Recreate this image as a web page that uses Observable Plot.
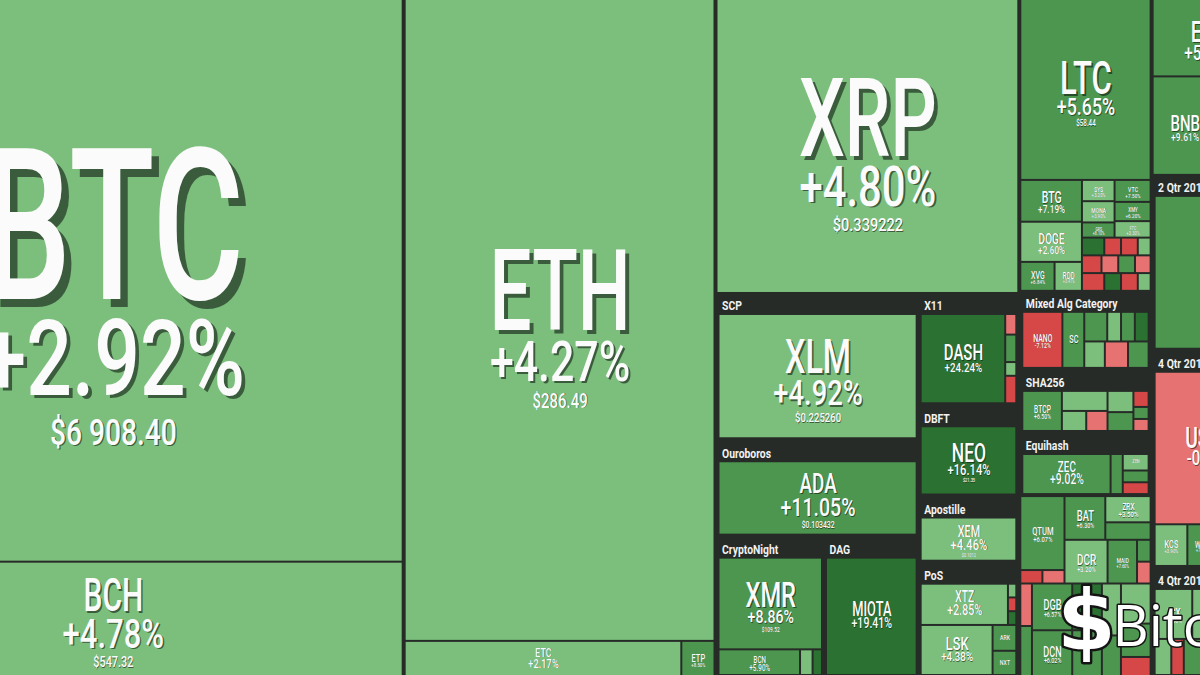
<!DOCTYPE html>
<html><head><meta charset="utf-8">
<script src="https://cdn.jsdelivr.net/npm/d3@7"></script>
<script src="https://cdn.jsdelivr.net/npm/@observablehq/plot@0.6"></script>
<style>
html,body{margin:0;padding:0;background:#262b27;overflow:hidden;}
#chart svg{display:block;}
</style></head><body><div id="chart"></div>
<script>
// Coins: [id, label, weight (market-cap share read from tile area), 24h change %, price]
const majorCoins = [
  ["BTC","BTC",3254,2.92,"$6 908.40"],
  ["BCH","BCH",667,4.78,"$547.32"],
  ["ETH","ETH",1990,4.27,"$286.49"],
  ["ETC","ETC",100,2.17,"$11.42"],
  ["ETP","ETP",12,8.5,""],
  ["XRP","XRP",888,4.80,"$0.339222"]
];
const col3Coins = [
  ["XLM","XLM",298,4.92,"$0.225260"],
  ["ADA","ADA",195,11.05,"$0.103432"],
  ["XMR","XMR",118,8.86,"$109.52"],
  ["BCN","BCN",26,5.90,""],
  ["cn1","",4,3.1,""],["cn2","",3,15.2,""],
  ["MIOTA","MIOTA",133,19.41,"$0.6021"],
  ["DASH","DASH",99,24.24,"$192.30"],
  ["x1","",3,-2.1,""],["x2","",4,7.3,""],["x3","",2,3.0,""],["x4","",4,-4.2,""],
  ["NEO","NEO",91,16.14,"$21.35"],
  ["XEM","XEM",66,4.46,"$0.1012"],
  ["XTZ","XTZ",47,2.85,"$1.52"],
  ["p1","",1.5,3.2,""],["p2","",1.5,-4.5,""],["p3","",1.5,14.8,""],
  ["LSK","LSK",47,4.38,"$3.41"],
  ["ARK","ARK",8,9.1,""],["NXT","NXT",7.5,7.8,""]
];
const col4Coins = [
  ["LTC","LTC",238,5.65,"$58.44"],
  ["BTG","BTG",26,7.19,""],["DOGE","DOGE",25,2.60,""],["XVG","XVG",10,6.84,""],["RDD","RDD",8,3.41,""],
  ["SYS","SYS",7,3.2,""],["MONA","MONA",7,3.9,""],["GRS","GRS",5,8.1,""],
  ["VTC","VTC",8,7.5,""],["XMY","XMY",7,6.2,""],["FTC","FTC",6,3.3,""],
  ["m1","",4,15,""],["m2","",3,-3.2,""],["m3","",3,-6,""],["m4","",2.3,3,""],
  ["m5","",3.5,-6,""],["m6","",3,-2,""],["m7","",3,7,""],["m8","",2.8,-1,""],
  ["m9","",4,-3.5,""],["m10","",3,14,""],["m11","",3,-6,""],["m12","",2.3,3,""],
  ["NANO","NANO",33,-7.12,""],["SC","SC",18,6.8,""],
  ["mx1","",10,7.2,""],["mx2","",6,3.1,""],["mx3","",6,6.4,""],["mx4","",6,15.1,""],
  ["mx5","",8,2.9,""],["mx6","",9,-2.4,""],["mx7","",8,7.7,""],
  ["BTCP","BTCP",26,6.5,""],["sh1","",15,3.1,""],["sh2","",8,2.8,""],["sh3","",7,-2.6,""],
  ["sh4","",9,3.4,""],["sh5","",8,7.0,""],["sh6","",4,-6.3,""],["sh7","",3,7.5,""],["sh8","",3,-1.8,""],
  ["ZEC","ZEC",58,9.02,"$128.10"],["KMD","KMD",8,7.4,""],["ZEN","ZEN",7,3.6,""],["eq2","",5,8.0,""],["eq3","",5,-4.1,""],
  ["QTUM","QTUM",33,6.07,""],["q1","",3,-4.4,""],["q2","",3,-2.5,""],
  ["BAT","BAT",18,6.3,""],["ZRX","ZRX",12,3.5,""],["b1","",8,7.1,""],
  ["DCR","DCR",19,3.2,""],["MAID","MAID",13,7.6,""],["d1","",3,6.9,""],["d2","",3,-1.7,""],
  ["bA1","",5,-2.2,""],["bA2","",6,7.0,""],["DGB","DGB",19,6.57,""],["DCN","DCN",19,6.02,""],
  ["bC1","",14,15.3,""],["bC2","",14,7.1,""],["bD1","",10,3.0,""],["bD2","",8,7.4,""],
  ["bE1","",12,3.3,""],["bE2","",10,7.2,""],["bE3","",6,-3.5,""]
];
const col5Coins = [
  ["EOS","EOS",88,5.96,""],["BNB","BNB",64,9.61,""],["c5x","",48,7.0,""],
  ["q2big","",200,7.5,""],
  ["USDT","USDT",194,-0.41,"$1.00"],["KCS","KCS",16,3.9,""],["WAN","WAN",14,7.2,""],["q3","",23,6.5,""],
  ["ICX","ICX",25,3.6,""],["q4x","",47,3.2,""],["r1","",8,3.0,""],["r2","",6,-4.2,""],["r3","",38,7.1,""]
];
// Groups: [id, split direction, header label, children]
const groups = [
  ["root","dice","",["c1","c2","c3","c4","c5"]],
  ["c1","slice","",["BTC","BCH"]],
  ["c2","slice","",["ETH","c2b"]],
  ["c2b","dice","",["ETC","ETP"]],
  ["c3","slice","",["XRP","c3low"]],
  ["c3low","dice","",["c3L","c3R"]],
  ["c3L","slice","",["gSCP","gOUR","c3Lrow"]],
  ["gSCP","slice","SCP",["XLM"]],
  ["gOUR","slice","Ouroboros",["ADA"]],
  ["c3Lrow","dice","",["gCN","gDAG"]],
  ["gCN","slice","CryptoNight",["XMR","cnRow"]],
  ["cnRow","dice","",["BCN","cn1","cn2"]],
  ["gDAG","slice","DAG",["MIOTA"]],
  ["c3R","slice","",["gX11","gDBFT","gAPO","gPOS"]],
  ["gX11","dice","X11",["DASH","x11s"]],
  ["x11s","slice","",["x1","x2","x3","x4"]],
  ["gDBFT","slice","DBFT",["NEO"]],
  ["gAPO","slice","Apostille",["XEM"]],
  ["gPOS","slice","PoS",["posR1","posR2"]],
  ["posR1","dice","",["XTZ","posS"]],
  ["posS","slice","",["p1","p2","p3"]],
  ["posR2","dice","",["LSK","posC"]],
  ["posC","slice","",["ARK","NXT"]],
  ["c4","slice","",["gSCR","gMIX","gSHA","gEQH","c4o","c4b"]],
  ["gSCR","slice","",["LTC","scS"]],
  ["scS","dice","",["scL","scR"]],
  ["scL","slice","",["BTG","DOGE","scL3"]],
  ["scL3","dice","",["XVG","RDD"]],
  ["scR","slice","",["scRt","scRb"]],
  ["scRt","dice","",["scRa","scRc"]],
  ["scRa","slice","",["SYS","MONA","GRS"]],
  ["scRc","slice","",["VTC","XMY","FTC"]],
  ["scRb","slice","",["mo1","mo2","mo3"]],
  ["mo1","dice","",["m1","m2","m3","m4"]],
  ["mo2","dice","",["m5","m6","m7","m8"]],
  ["mo3","dice","",["m9","m10","m11","m12"]],
  ["gMIX","dice","Mixed Alg Category",["NANO","SC","mixR"]],
  ["mixR","slice","",["mixT","mixB"]],
  ["mixT","dice","",["mx1","mx2","mx3","mx4"]],
  ["mixB","dice","",["mx5","mx6","mx7"]],
  ["gSHA","dice","SHA256",["BTCP","shB","shC","shD"]],
  ["shB","slice","",["sh1","shB2"]],
  ["shB2","dice","",["sh2","sh3"]],
  ["shC","slice","",["sh4","sh5"]],
  ["shD","slice","",["sh6","sh7","sh8"]],
  ["gEQH","dice","Equihash",["ZEC","KMD","eqC"]],
  ["eqC","slice","",["ZEN","eq2","eq3"]],
  ["c4o","dice","",["qCol","oR"]],
  ["qCol","slice","",["QTUM","qRow"]],
  ["qRow","dice","",["q1","q2"]],
  ["oR","slice","",["batRow","dcrRow"]],
  ["batRow","dice","",["BAT","batR"]],
  ["batR","slice","",["ZRX","b1"]],
  ["dcrRow","dice","",["DCR","MAID","dcrR"]],
  ["dcrR","slice","",["d1","d2"]],
  ["c4b","dice","",["bA","bB","bC","bD","bE"]],
  ["bA","slice","",["bA1","bA2"]],
  ["bB","slice","",["DGB","DCN"]],
  ["bC","slice","",["bC1","bC2"]],
  ["bD","slice","",["bD1","bD2"]],
  ["bE","slice","",["bE1","bE2","bE3"]],
  ["c5","slice","",["c5t","gQ2","gQ4a","gQ4b"]],
  ["c5t","slice","",["EOS","c5r"]],
  ["c5r","dice","",["BNB","c5x"]],
  ["gQ2","slice","2 Qtr 2018",["q2big"]],
  ["gQ4a","slice","4 Qtr 2017",["USDT","q4aRow"]],
  ["q4aRow","dice","",["KCS","WAN","q3"]],
  ["gQ4b","slice","4 Qtr 2016",["q4bRow1","q4bRow2"]],
  ["q4bRow1","dice","",["ICX","q4x"]],
  ["q4bRow2","dice","",["r1","r2","r3"]]
];
const changeThresholds = [-3, 0, 5, 13];
const changeColors = ["#d64848", "#e67272", "#7cbf7d", "#4c9650", "#2b7131"];

// ---- build hierarchy ----
const coinById = new Map([...majorCoins, ...col3Coins, ...col4Coins, ...col5Coins]
  .map(([id, name, weight, change, price]) => [id, {id, name, weight, change, price}]));
const groupById = new Map(groups.map(([id, split, header, kids]) => [id, {id, split, header, kids}]));
function build(id) {
  const g = groupById.get(id);
  if (g) return {id: g.id, split: g.split, header: g.header, children: g.kids.map(build)};
  const c = coinById.get(id);
  if (!c) throw new Error("missing " + id);
  return c;
}
const root = d3.hierarchy(build("root")).sum(d => d.weight || 0);
const VW = 1440, VH = 676;
d3.treemap()
  .size([VW, VH])
  .tile((node, x0, y0, x1, y1) => (node.data.split === "slice" ? d3.treemapSlice : d3.treemapDice)(node, x0, y0, x1, y1))
  .paddingInner(d => d.depth === 0 ? 4 : 2)
  .paddingTop(d => d.data.header ? 21 : 0)
  .paddingRight(d => d.data.header ? 2 : 0)
  .paddingBottom(d => d.data.header ? 2 : 0)
  .paddingLeft(d => d.data.header ? 2 : 0)(root);

const fmtChange = v => (v > 0 ? "+" : v < 0 ? "-" : "") + Math.abs(v).toFixed(2) + "%";
const tiles = root.leaves().map(n => {
  const t = {...n.data, x0: n.x0, x1: n.x1, y0: n.y0, y1: n.y1};
  const w = t.x1 - t.x0, h = t.y1 - t.y0;
  t.changeText = fmtChange(t.change);
  t.nsize = t.name ? Math.min(1.1 * w / t.name.length, 0.4 * h) : 0;
  t.csize = Math.min(1.1 * w / t.changeText.length, 0.36 * h);
  t.psize = t.price ? 0.35 * t.csize : 0;
  const total = 0.72 * t.nsize + 0.9 * t.csize + (t.psize ? 1.35 * t.psize : 0);
  const top = (t.y0 + t.y1) / 2 - total / 2 + 0.07 * t.nsize;
  t.cx = (t.x0 + t.x1) / 2;
  t.nameY = top + 0.72 * t.nsize;
  t.changeY = t.nameY + 0.9 * t.csize;
  t.priceY = t.changeY + 1.35 * t.psize;
  return t;
});
const named = tiles.filter(t => t.name && t.nsize >= 5);
const withChange = named.filter(t => t.csize >= 4.5);
const withPrice = named.filter(t => t.psize >= 5);
const headers = root.descendants().filter(n => n.data.header)
  .map(n => ({header: n.data.header, x0: n.x0, y0: n.y0}));

const sh = 0.035;
const txt = {fill: "#fbfbfb", fontFamily: "Roboto", fontWeight: 500, lineAnchor: "bottom", clip: true};
const shd = {fill: "#0f1a10", fillOpacity: 0.6, fontFamily: "Roboto", fontWeight: 500, lineAnchor: "bottom", clip: true};

// horizontal condensing of each text layer, in mark order
const squeeze = [0.8, 0.66, 0.66, 0.76, 0.76, 0.76, 0.76];

const chart = Plot.plot({
  width: 1200, height: 675, margin: 0,
  x: {domain: [176, 1376], range: [0, 1200], axis: null},
  y: {domain: [0, 675], range: [0, 675], axis: null},
  color: {type: "threshold", domain: changeThresholds, range: changeColors},
  style: {background: "#262b27", fontFamily: "Roboto"},
  marks: [
    Plot.rect(tiles, {x1: "x0", x2: "x1", y1: "y0", y2: "y1", fill: "change", clip: true}),
    Plot.text(headers, {x: d => d.x0 + 4, y: d => d.y0 + 16, text: "header", fill: "#f2f2f2", fontWeight: 700,
      fontSize: 13, textAnchor: "start", lineAnchor: "bottom", clip: true}),
    Plot.text(named, {...shd, x: d => d.cx + d.nsize * sh, y: d => d.nameY + d.nsize * sh, text: "name", fontSize: d => d.nsize}),
    Plot.text(named, {...txt, x: "cx", y: "nameY", text: "name", fontSize: d => d.nsize}),
    Plot.text(withChange, {...shd, x: d => d.cx + d.csize * sh, y: d => d.changeY + d.csize * sh, text: "changeText", fontSize: d => d.csize}),
    Plot.text(withChange, {...txt, x: "cx", y: "changeY", text: "changeText", fontSize: d => d.csize}),
    Plot.text(withPrice, {...shd, x: d => d.cx + d.psize * sh, y: d => d.priceY + d.psize * sh, text: "price", fontSize: d => d.psize}),
    Plot.text(withPrice, {...txt, x: "cx", y: "priceY", text: "price", fontSize: d => d.psize}),
    Plot.text(["$"], {frameAnchor: "bottom-right", dx: -114, dy: -26, text: d => d, textAnchor: "middle", lineAnchor: "bottom",
      fontSize: 84, fontWeight: 700, fontFamily: "DejaVu Sans", fill: "#ffffff", stroke: "#141414", strokeWidth: 5, paintOrder: "stroke"}),
    Plot.text(["Bitcoinsistemi"], {frameAnchor: "bottom-right", dx: -88, dy: -30, text: d => d, textAnchor: "start", lineAnchor: "bottom",
      fontSize: 56, fontWeight: 400, fontFamily: "Open Sans", fill: "#ffffff", stroke: "#141414", strokeWidth: 3, paintOrder: "stroke"})
  ]
});

const textLayers = chart.querySelectorAll('g[aria-label="text"]');
squeeze.forEach((sx, i) => {
  const layer = textLayers[i];
  if (!layer) return;
  layer.querySelectorAll("text").forEach(t => {
    let tr = t.getAttribute("transform");
    if (!tr && t.hasAttribute("x")) {
      tr = `translate(${t.getAttribute("x")},0)`;
      t.removeAttribute("x");
    }
    t.setAttribute("transform", `${tr || ""} scale(${sx},1)`);
  });
});
document.getElementById("chart").appendChild(chart);
</script>
</body></html>
